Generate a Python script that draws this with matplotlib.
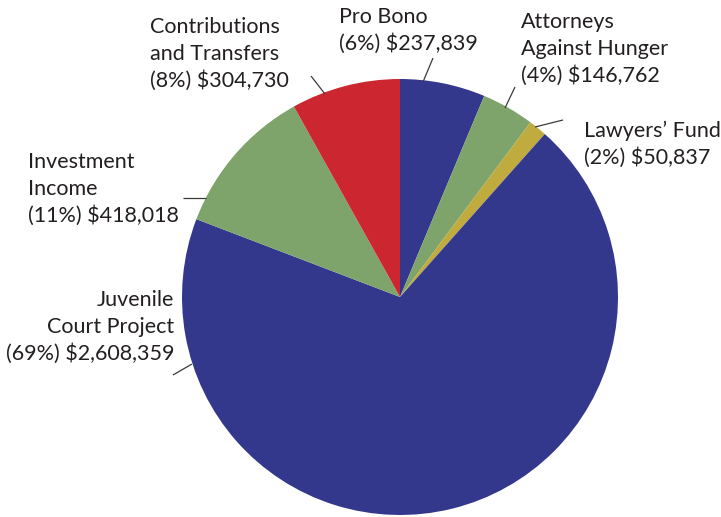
import matplotlib
matplotlib.use("Agg")
import matplotlib.pyplot as plt

# Data (clockwise from 12 o'clock)
categories = ["Pro Bono", "Attorneys\nAgainst Hunger", "Lawyers\u2019 Fund",
              "Juvenile\nCourt Project", "Investment\nIncome", "Contributions\nand Transfers"]
amounts = [237839, 146762, 50837, 2608359, 418018, 304730]
percent_labels = [6, 4, 2, 69, 11, 8]
colors = ["#33388c", "#7ea46b", "#c0ac3e", "#33388c", "#7ea46b", "#cc2731"]

W, H = 721, 517
fig = plt.figure(figsize=(W / 100, H / 100), dpi=100)
ax = fig.add_axes([0, 0, 1, 1])

cx, cy, r = 400, H - 297, 218
ax.pie(amounts, colors=colors, startangle=90, counterclock=False,
       center=(cx, cy), radius=r, wedgeprops=dict(linewidth=0))
ax.set_xlim(0, W)
ax.set_ylim(0, H)
ax.set_aspect("equal")
ax.axis("off")

txt_color = "#231f20"
font = dict(family=["Lato", "DejaVu Sans"], fontsize=15.5, color=txt_color)
line_gap = 27

# label placement (pixel coords from top): (x, first baseline, ha)
placements = [
    (339, 23, "left"),
    (521, 28, "left"),
    (584, 137, "left"),
    (174, 306, "right"),
    (28, 168, "left"),
    (150, 33, "left"),
]
# leader lines (pixel coords from top)
leaders = [
    ((433, 58), (423, 82)),
    ((515, 87), (505, 108)),
    ((563, 120), (535, 127)),
    ((173, 375), (192, 364)),
    ((183, 198), (206, 198)),
    ((311, 76), (325, 94)),
]

for cat, amt, pct, (x, yb, ha), (p0, p1) in zip(categories, amounts, percent_labels,
                                                  placements, leaders):
    lines = cat.split("\n") + [f"({pct}%) ${amt:,}"]
    for i, ln in enumerate(lines):
        ax.text(x, H - (yb + i * line_gap), ln, ha=ha, va="baseline", **font)
    ax.plot([p0[0], p1[0]], [H - p0[1], H - p1[1]], color="#3a3a3a", lw=0.9,
            solid_capstyle="butt")

fig.savefig("out.png", dpi=100)
